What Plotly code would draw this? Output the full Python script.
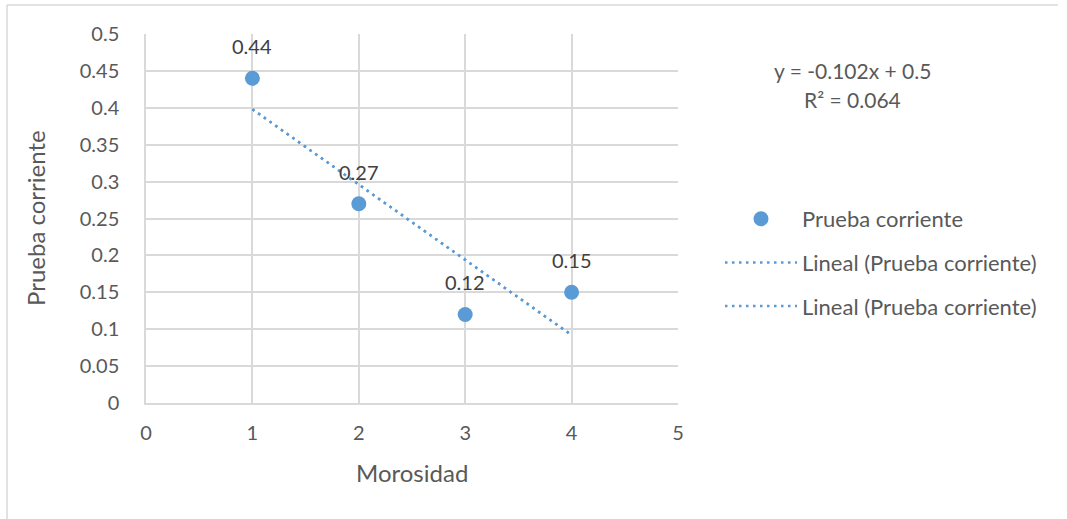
import plotly.graph_objects as go

# Data
morosidad = [1, 2, 3, 4]
prueba_corriente = [0.44, 0.27, 0.12, 0.15]
data_labels = ["0.44", "0.27", "0.12", "0.15"]
trend_x = [1, 4]
trend_y = [0.398, 0.092]
x_ticks = [0, 1, 2, 3, 4, 5]
x_tick_labels = ["0", "1", "2", "3", "4", "5"]
y_ticks = [0, 0.05, 0.1, 0.15, 0.2, 0.25, 0.3, 0.35, 0.4, 0.45, 0.5]
y_tick_labels = ["0", "0.05", "0.1", "0.15", "0.2", "0.25", "0.3", "0.35", "0.4", "0.45", "0.5"]
equation_lines = ["y = -0.102x + 0.5", "R² = 0.064"]

W, H = 1067, 519
L, R, T, B = 146, 1067 - 678, 34, 519 - 403
PW, PH = W - L - R, H - T - B

def px(xp):
    return (xp - L) / PW

def py(yp):
    return (H - B - yp) / PH

FONT = "Lato, 'Open Sans', sans-serif"
TXT = "#595959"
GRID = "#d9d9d9"
BLUE = "#5b9bd5"

fig = go.Figure()
fig.add_trace(go.Scatter(
    x=morosidad, y=prueba_corriente, mode="markers", name="Prueba corriente",
    marker=dict(color=BLUE, size=15, line=dict(width=0)),
    legendgroup="a", cliponaxis=False,
))
fig.add_trace(go.Scatter(
    x=trend_x, y=trend_y, mode="lines", name="Lineal (Prueba corriente)",
    line=dict(color=BLUE, width=2.5, dash="2.5px,4.5px"), legendgroup="b",
))
fig.add_trace(go.Scatter(
    x=trend_x, y=trend_y, mode="lines", name="Lineal (Prueba corriente)",
    line=dict(color=BLUE, width=2.5, dash="2.5px,4.5px"), legendgroup="c",
))

annotations = []
for xv, yv, t in zip(morosidad, prueba_corriente, data_labels):
    annotations.append(dict(x=xv, y=yv, text=t, showarrow=False, yshift=32,
                            font=dict(family=FONT, size=20, color="#404040"),
                            xanchor="center", yanchor="middle"))
for i, line in enumerate(equation_lines):
    annotations.append(dict(x=px(852), y=py(70 + 30 * i), xref="paper", yref="paper",
                            text=line, showarrow=False, xanchor="center", yanchor="middle",
                            font=dict(family=FONT, size=21, color=TXT)))
annotations.append(dict(x=px(412), y=py(473), xref="paper", yref="paper", text="Morosidad",
                        showarrow=False, xanchor="center", yanchor="middle",
                        font=dict(family=FONT, size=24, color=TXT)))
annotations.append(dict(x=px(35), y=py(218), xref="paper", yref="paper", text="Prueba corriente",
                        showarrow=False, xanchor="center", yanchor="middle", textangle=-90,
                        font=dict(family=FONT, size=24, color=TXT)))

shapes = [
    dict(type="line", xref="paper", yref="paper", x0=px(7), x1=px(1058), y0=py(5), y1=py(5),
         line=dict(color=GRID, width=1.5)),
    dict(type="line", xref="paper", yref="paper", x0=px(7), x1=px(7), y0=py(5), y1=py(519),
         line=dict(color=GRID, width=1.5)),
]

fig.update_layout(
    width=W, height=H,
    margin=dict(l=L, r=R, t=T, b=B, autoexpand=False),
    paper_bgcolor="white", plot_bgcolor="white",
    font=dict(family=FONT, size=20, color=TXT),
    showlegend=True,
    legend=dict(x=px(720), y=py(198), xanchor="left", yanchor="top",
                font=dict(family=FONT, size=22, color=TXT),
                tracegroupgap=12, bgcolor="rgba(0,0,0,0)", itemwidth=72),
    annotations=annotations, shapes=shapes,
    xaxis=dict(range=[0, 5], tickvals=x_ticks, ticktext=x_tick_labels, showgrid=True,
               gridcolor=GRID, gridwidth=1.5, zeroline=False, showline=True,
               linecolor=GRID, linewidth=1.5, ticks="", ticklabelstandoff=11,
               tickfont=dict(family=FONT, size=20, color=TXT), fixedrange=True),
    yaxis=dict(range=[0, 0.5], tickvals=y_ticks, ticktext=y_tick_labels, showgrid=True,
               gridcolor=GRID, gridwidth=1.5, zeroline=False, showline=True,
               linecolor=GRID, linewidth=1.5, ticks="", ticklabelstandoff=21,
               tickfont=dict(family=FONT, size=20, color=TXT), fixedrange=True),
)

fig.write_html("out.html")
